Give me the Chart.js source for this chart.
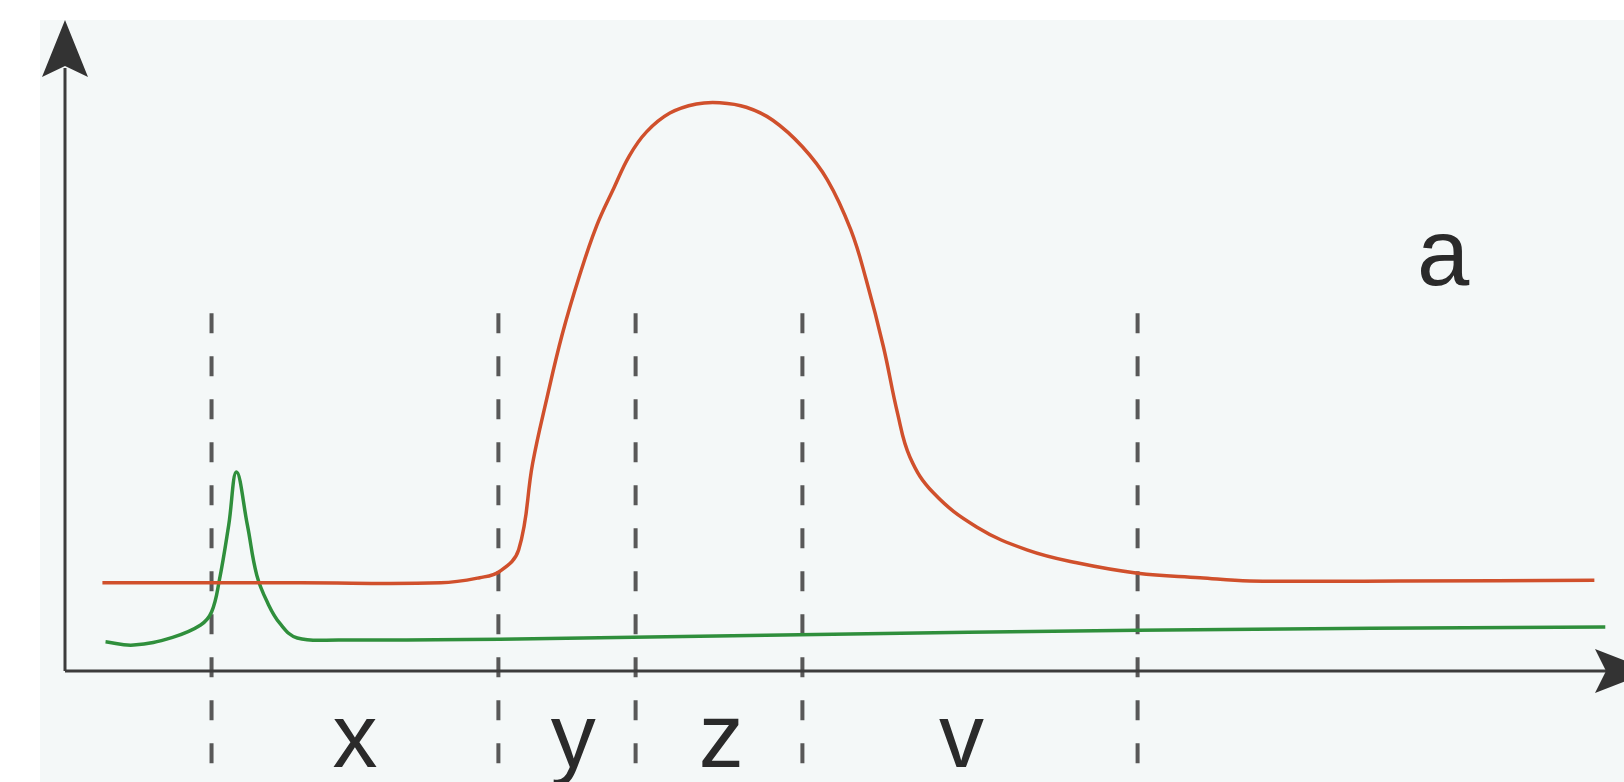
<!DOCTYPE html>
<html>
<head>
<meta charset="utf-8">
<title>a</title>
<script src="https://cdn.jsdelivr.net/npm/chart.js@4/dist/chart.umd.min.js"></script>
<style>
  html, body { margin: 0; padding: 0; background: #fff; }
  canvas { display: block; }
</style>
</head>
<body>
<canvas id="chart" width="1624" height="782"></canvas>
<script>
// red curve: flat, sharp rise, broad top, then decay back to the baseline
const redX = [2.4, 15.1, 24.1, 26.6, 27.9, 29.1, 30.0, 30.9, 31.9, 33.0, 34.1, 35.2, 36.2, 37.3, 38.8, 40.5, 42.0, 43.7, 45.4, 47.3, 48.9, 50.4, 51.4, 52.5, 53.4, 54.2, 55.7, 58.5, 61.7, 64.9, 68.8, 72.8, 76.0, 85.6, 98.1];
const redY = [13.6, 13.6, 13.6, 14.4, 15.4, 18.7, 32.1, 42.0, 52.0, 61.0, 68.7, 74.5, 79.5, 83.2, 86.1, 87.5, 87.7, 87.0, 85.0, 80.9, 75.8, 68.1, 60.3, 50.0, 39.8, 33.0, 27.5, 22.2, 18.7, 16.7, 15.1, 14.4, 13.9, 13.9, 14.0];

// green curve: narrow spike near the start, then almost flat
const greenX = [2.6, 4.4, 6.9, 8.7, 9.4, 9.9, 10.5, 11.0, 11.7, 12.3, 13.0, 13.8, 14.9, 17.6, 27.9, 47.1, 68.8, 98.8];
const greenY = [4.5, 4.0, 5.2, 7.1, 9.1, 14.0, 22.5, 30.7, 22.5, 14.8, 10.5, 7.3, 5.1, 4.8, 4.9, 5.6, 6.3, 6.8];

// phase boundaries and the labels between them
const boundaries = [9.4, 27.8, 36.6, 47.3, 68.8];
const phaseLabels = ['x', 'y', 'z', 'v'];
const phaseLabelX = [18.6, 32.6, 42.1, 57.5];
const cornerLabel = 'a';
const cornerLabelPos = [88.4, 59.6];

function toPoints(xs, ys){
    return xs.map(function(x, i){ return {x: x, y: ys[i]}; });
}

const ink = '#333333';

const paperPlugin = {
    id: 'paper',
    beforeDraw: function(chart){
        const ctx = chart.ctx;
        ctx.save();
        ctx.fillStyle = '#ffffff';
        ctx.fillRect(0, 0, chart.width, chart.height);
        ctx.fillStyle = '#f4f8f8';
        ctx.fillRect(40, 20, chart.width - 40, chart.height - 20);
        ctx.restore();
    }
};

const diagramPlugin = {
    id: 'diagram',
    beforeDatasetsDraw: function(chart){
        const ctx = chart.ctx;
        const xs = chart.scales.x;
        const ys = chart.scales.y;
        const x0 = xs.getPixelForValue(0);
        const y0 = ys.getPixelForValue(0);
        const top = ys.top - 3;

        ctx.save();

        // dashed boundaries, running down past the axis
        ctx.strokeStyle = '#585858';
        ctx.lineWidth = 4;
        ctx.setLineDash([20, 23]);
        boundaries.forEach(function(b){
            const px = xs.getPixelForValue(b);
            ctx.beginPath();
            ctx.moveTo(px, ys.getPixelForValue(55.2));
            ctx.lineTo(px, chart.height);
            ctx.stroke();
        });
        ctx.setLineDash([]);

        // axes
        ctx.strokeStyle = '#3c3c3c';
        ctx.lineWidth = 3;
        ctx.beginPath();
        ctx.moveTo(x0, y0);
        ctx.lineTo(x0, top + 48);
        ctx.moveTo(x0, y0);
        ctx.lineTo(xs.right - 14, y0);
        ctx.stroke();

        // arrow heads
        ctx.fillStyle = ink;
        ctx.beginPath();
        ctx.moveTo(x0, top);
        ctx.lineTo(x0 + 23, top + 57);
        ctx.lineTo(x0, top + 46);
        ctx.lineTo(x0 - 23, top + 57);
        ctx.closePath();
        ctx.fill();

        const tipX = xs.right + 28;
        ctx.beginPath();
        ctx.moveTo(tipX, y0);
        ctx.lineTo(tipX - 57, y0 - 22);
        ctx.lineTo(tipX - 46, y0);
        ctx.lineTo(tipX - 57, y0 + 22);
        ctx.closePath();
        ctx.fill();

        ctx.restore();
    },
    afterDatasetsDraw: function(chart){
        const ctx = chart.ctx;
        const xs = chart.scales.x;
        const ys = chart.scales.y;
        ctx.save();
        ctx.fillStyle = '#2a2a2a';
        ctx.textAlign = 'center';
        ctx.textBaseline = 'alphabetic';
        ctx.font = '90px "Liberation Sans", Arial, sans-serif';
        phaseLabels.forEach(function(lbl, i){
            ctx.fillText(lbl, xs.getPixelForValue(phaseLabelX[i]), ys.bottom + 96);
        });
        ctx.font = '94px "Liberation Sans", Arial, sans-serif';
        ctx.fillText(cornerLabel, xs.getPixelForValue(cornerLabelPos[0]), ys.getPixelForValue(cornerLabelPos[1]));
        ctx.restore();
    }
};

const config = {
    type: 'line',
    data: {
        datasets: [
            {
                label: 'red',
                data: toPoints(redX, redY),
                borderColor: '#d0502c',
                borderWidth: 3.5,
                pointRadius: 0,
                tension: 0.4,
                fill: false
            },
            {
                label: 'green',
                data: toPoints(greenX, greenY),
                borderColor: '#2f8f3c',
                borderWidth: 3.5,
                pointRadius: 0,
                tension: 0.4,
                fill: false
            }
        ]
    },
    options: {
        responsive: false,
        animation: false,
        layout: { padding: { left: 65, right: 0, top: 23, bottom: 111 } },
        plugins: {
            legend: { display: false },
            tooltip: { enabled: false }
        },
        scales: {
            x: { type: 'linear', min: 0, max: 100, display: false },
            y: { type: 'linear', min: 0, max: 100, display: false }
        }
    },
    plugins: [paperPlugin, diagramPlugin]
};

const chart = new Chart(document.getElementById('chart'), config);
</script>
</body>
</html>
